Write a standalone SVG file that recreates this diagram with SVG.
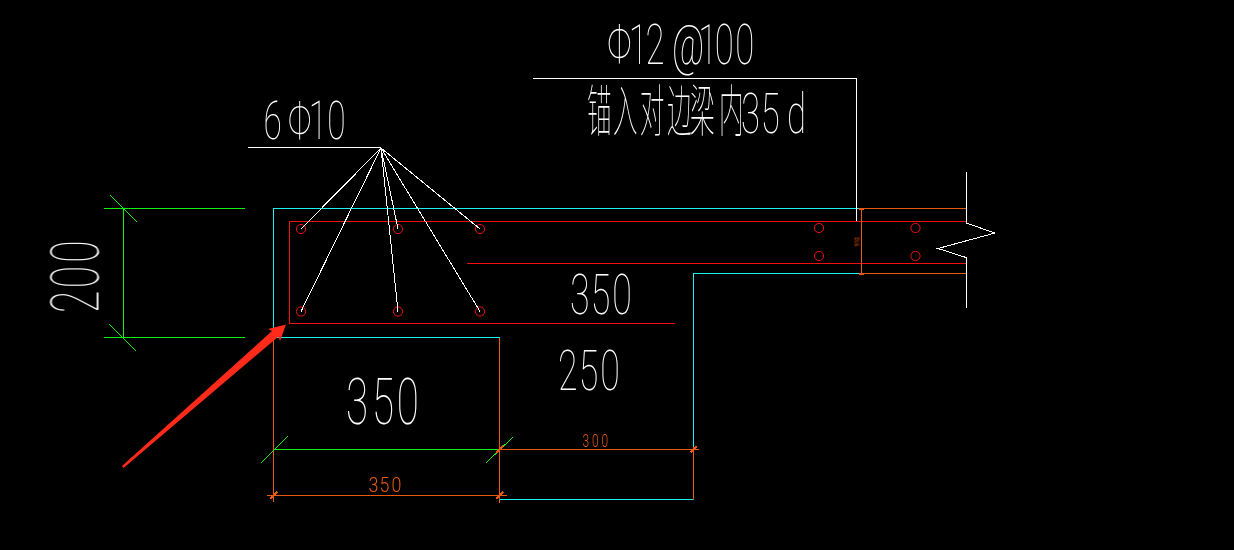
<svg xmlns="http://www.w3.org/2000/svg" width="1234" height="550" viewBox="0 0 1234 550">
<style>
line,polyline,circle{fill:none;stroke-width:1;shape-rendering:crispEdges}
.c{stroke:#19f0f0}.r{stroke:#f01010}.o{stroke:#e85a10}.g{stroke:#10f010}.w{stroke:#fff}
.b{stroke:#e85a10;stroke-width:2}
circle{stroke:#f01010;shape-rendering:auto}
text{font-family:"Roboto","Noto Sans CJK SC",sans-serif;font-weight:100;fill:#fff}
.cad{fill:#e85a10;font-weight:300}
#labels{opacity:.999}
</style>
<rect width="1234" height="550" fill="#000"/>
<g id="outline">
<polyline class="c" points="860,208.5 273.5,208.5 273.5,337.5 499.5,337.5"/>
<polyline class="c" points="860,273.5 693.5,273.5 693.5,447"/>
<line class="c" x1="499" y1="499.5" x2="693.5" y2="499.5"/>
<line class="o" x1="860" y1="208.5" x2="966" y2="208.5"/>
<line class="o" x1="860" y1="273.5" x2="966" y2="273.5"/>
<line class="o" x1="693.5" y1="447" x2="693.5" y2="499.5"/>
<line class="o" x1="273.5" y1="338" x2="273.5" y2="502"/>
<line class="o" x1="499.5" y1="338" x2="499.5" y2="503"/>
</g>
<g id="rebar">
<polyline class="r" points="966,221.5 289.5,221.5 289.5,323.5 675,323.5"/>
<line class="r" x1="467" y1="263.5" x2="966" y2="263.5"/>
<circle cx="301" cy="229" r="4.6"/><circle cx="398" cy="229" r="4.6"/><circle cx="480" cy="229" r="4.6"/>
<circle cx="301" cy="311.5" r="4.6"/><circle cx="398" cy="311.5" r="4.6"/><circle cx="480" cy="311.5" r="4.6"/>
<circle cx="819" cy="228" r="4.6"/><circle cx="915.5" cy="228" r="4.6"/>
<circle cx="819" cy="256" r="4.6"/><circle cx="915.5" cy="256" r="4.6"/>
</g>
<g id="connectors">
<line class="w" x1="248" y1="147.5" x2="381" y2="147.5"/>
<line class="w" x1="381" y1="148" x2="301" y2="229"/>
<line class="w" x1="381" y1="148" x2="398" y2="229"/>
<line class="w" x1="381" y1="148" x2="480" y2="229"/>
<line class="w" x1="381" y1="148" x2="301" y2="311.5"/>
<line class="w" x1="381" y1="148" x2="398" y2="311.5"/>
<line class="w" x1="381" y1="148" x2="480" y2="311.5"/>
<polyline class="w" points="533,78.5 856.5,78.5 856.5,221"/>
<polyline class="w" points="966,172 966,223 995,233 938,248.5 966,257.5 966,308"/>
</g>
<g id="dimensions">
<line class="g" x1="104" y1="208.5" x2="245" y2="208.5"/>
<line class="g" x1="104" y1="337.5" x2="245" y2="337.5"/>
<line class="g" x1="123.5" y1="208" x2="123.5" y2="337"/>
<line class="g" x1="110" y1="195" x2="137" y2="222"/>
<line class="g" x1="109" y1="324" x2="136" y2="351"/>
<line class="g" x1="273.5" y1="449.5" x2="499" y2="449.5"/>
<line class="g" x1="261" y1="463" x2="288" y2="436"/>
<line class="g" x1="486" y1="463" x2="513" y2="437"/>
<line class="o" x1="499" y1="449.5" x2="699" y2="449.5"/>
<line class="o" x1="267" y1="495.5" x2="507" y2="495.5"/>
<line class="o" x1="861.5" y1="208" x2="861.5" y2="274"/>
<line class="b" x1="496" y1="453" x2="503" y2="446"/>
<line class="b" x1="690.5" y1="452.5" x2="696.5" y2="446.5"/>
<line class="b" x1="270" y1="499" x2="277" y2="492"/>
<line class="b" x1="496" y1="499" x2="503" y2="492"/>
<line class="b" x1="858.5" y1="208.5" x2="864" y2="208.5"/>
<line class="b" x1="858.5" y1="274" x2="864" y2="274"/>
</g>
<g id="arrow">
<polygon points="122,466 272,331 268,329 286,324.5 280,341 278.5,336.5 123.5,468" fill="#ff2a1a"/>
</g>
<g id="labels">
<text transform="translate(607,64) scale(.62,1)" font-size="56" x="0 35 62 105 147 174 207">Φ12@100</text>
<text transform="translate(587,131) scale(.44,1)" font-size="56" x="0 59 120 182 234 300">锚入对边梁内</text>
<text transform="translate(741,133) scale(.62,1)" font-size="56" x="0 32 74">35d</text>
<text transform="translate(263.5,139) scale(.62,1)" font-size="54" x="0 39 73 103">6Φ10</text>
<text transform="translate(570,314) scale(.65,1)" font-size="55" x="0 32 65">350</text>
<text transform="translate(558,390) scale(.65,1)" font-size="55" x="0 32 65">250</text>
<text transform="translate(346,424) scale(.62,1)" font-size="65" x="0 42 82">350</text>
<text transform="translate(98.5,313) rotate(-90) scale(.62,1)" font-size="66" x="0 40 81">200</text>
<text class="cad" transform="translate(368.5,492) scale(.85,1)" font-size="21" x="0 13 27">350</text>
<text class="cad" transform="translate(582.5,447) scale(.63,1)" font-size="19" x="0 15 30">300</text>
<text class="cad" style="font-weight:400" transform="translate(859.5,246.5) rotate(-90)" font-size="7" textLength="9.5" lengthAdjust="spacingAndGlyphs">910</text>
</g>
</svg>
